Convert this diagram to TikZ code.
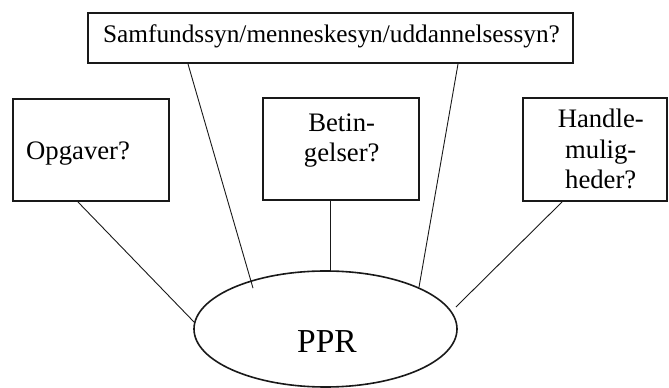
\documentclass[tikz,border=0pt]{standalone}
\usepackage{fontspec}
\setmainfont{Liberation Serif}
\usetikzlibrary{shapes.geometric}
\begin{document}
\begin{tikzpicture}[x=1pt,y=1pt,
  box/.style={draw=black!90, line width=2pt, inner sep=0pt},
  bubble/.style={draw=black!90, ellipse, line width=1.6pt, inner sep=0pt,
    minimum width=263pt, minimum height=116pt},
  link/.style={draw=black!90, line width=0.9pt},
  boxtext/.style={font=\fontsize{26.7}{30.5}\selectfont, inner sep=0pt, align=center},
  toptext/.style={font=\fontsize{25.3}{30}\selectfont, inner sep=0pt}]
  \useasboundingbox (0,0) rectangle (669,388);

  % boxes
  \node[box, minimum width=485pt, minimum height=50pt] (top) at (330.5,350) {};
  \node[box, minimum width=156pt, minimum height=102pt] (opg) at (90.5,238) {};
  \node[box, minimum width=156pt, minimum height=102pt] (bet) at (341,239) {};
  \node[box, minimum width=144.5pt, minimum height=103pt] (han) at (594.75,238.5) {};

  % central ellipse
  \node[bubble] (ppr) at (325.5,59) {};

  % texts (base anchor sits on the last line of a multi-line node)
  \node[toptext, anchor=base] (topt) at ([xshift=1pt,yshift=-5pt]top.center) {Samfundssyn/menneskesyn/uddannelsessyn?};
  \node[boxtext, anchor=base west] (opgt) at ([xshift=14.5pt,yshift=-10pt]opg.west) {Opgaver?};
  \node[boxtext, anchor=base] (bett) at ([xshift=0.7pt,yshift=-13pt]bet.center) {Betin-\\gelser?};
  \node[boxtext, anchor=base] (hant) at ([xshift=6pt,yshift=-39.5pt]han.center) {Handle-\\mulig-\\heder?};
  \node[font=\fontsize{33.5}{36}\selectfont, inner sep=0pt, anchor=base] (pprt) at ([xshift=1.5pt,yshift=-24pt]ppr.center) {PPR};

  % connectors
  \draw[link] ([xshift=-12.5pt]opg.south) -- (ppr.177);
  \draw[link, shorten >=-8pt] ([xshift=-142.5pt]top.south) -- (ppr.147);
  \draw[link] ([xshift=-11pt]bet.south) -- ([xshift=-11pt]bet.south |- ppr.north);
  \draw[link] ([xshift=127.5pt]top.south) -- (ppr.24);
  \draw[link, shorten >=6pt] ([xshift=-32.75pt]han.south) -- (ppr.8);
\end{tikzpicture}
\end{document}
